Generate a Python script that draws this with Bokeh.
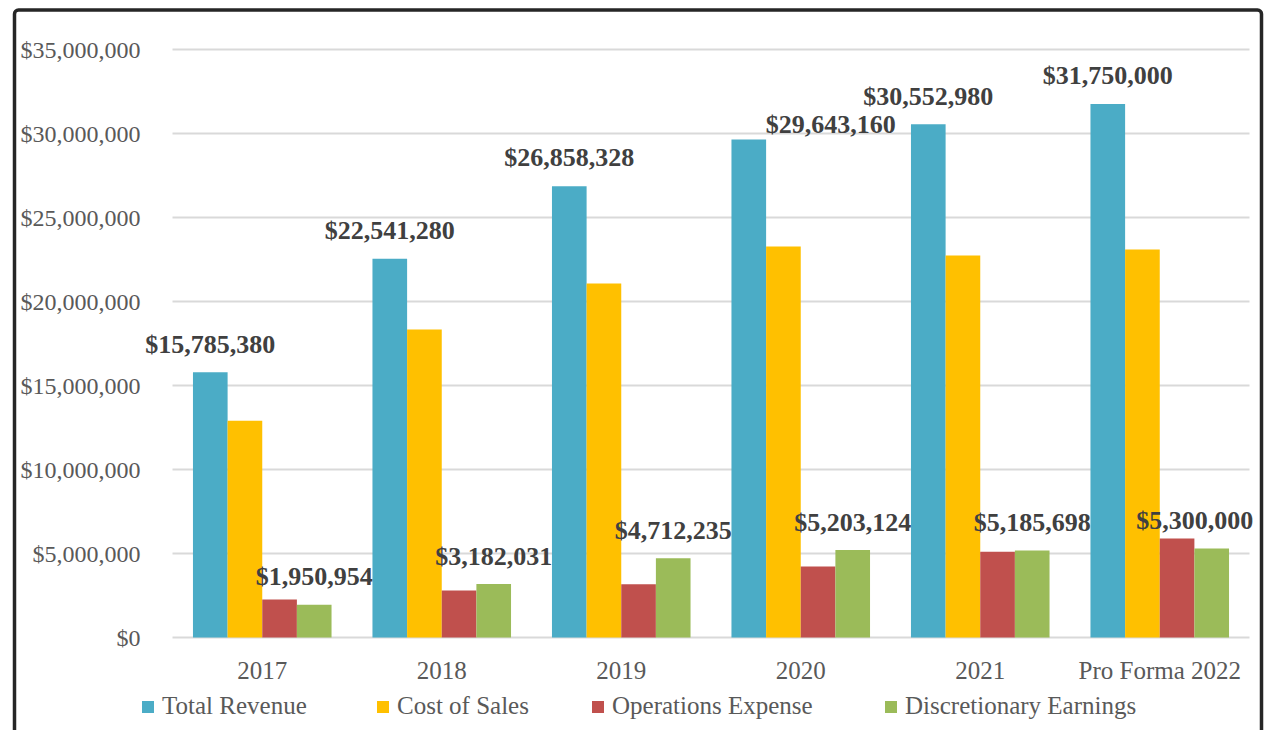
from bokeh.plotting import figure
from bokeh.models import (ColumnDataSource, Range1d, Legend, LegendItem, BoxAnnotation)
from bokeh.core.properties import value
from bokeh.embed import file_html
from bokeh.resources import INLINE

# ---- data ----
years = ["2017", "2018", "2019", "2020", "2021", "Pro Forma 2022"]
total_revenue = [15785380, 22541280, 26858328, 29643160, 30552980, 31750000]
cost_of_sales = [12900000, 18330000, 21070000, 23270000, 22740000, 23100000]
operations_expense = [2260000, 2800000, 3170000, 4230000, 5100000, 5890000]
discretionary_earnings = [1950954, 3182031, 4712235, 5203124, 5185698, 5300000]
y_ticks = [0, 5000000, 10000000, 15000000, 20000000, 25000000, 30000000, 35000000]
series_names = ["Total Revenue", "Cost of Sales", "Operations Expense", "Discretionary Earnings"]

# ---- layout / styling (screen pixels) ----
W, H = 1270, 730
PLOT_L, PLOT_R = 172, 1249       # plot area left / right edge on the canvas
ZERO_Y, TOP_Y = 637, 49          # canvas y of $0 and of $35,000,000
rev_label_dx = [0, 0, 0, 82, 0, 0]
rev_label_dy = [-28, -28, -29, -15, -28, -29]
disc_label_dx = [0, 0, 0, 0, 0, -17]
disc_label_dy = [-28, -28, -28, -28, -28, -28]
legend_x = [140, 375, 590, 883]

FONT = "Liberation Serif"
TXT = "#595959"
LBL = "#404040"
GRID = "#d9d9d9"
colors = ["#4bacc6", "#ffc000", "#c0504d", "#9bbb59"]

n = len(years)
u = (PLOT_R - PLOT_L) / n                     # pixels per category
mpp = (y_ticks[-1] - y_ticks[0]) / (ZERO_Y - TOP_Y)   # value per pixel

p = figure(x_range=Range1d(-PLOT_L / u, (W - PLOT_L) / u),
           y_range=Range1d(-(H - ZERO_Y) * mpp, ZERO_Y * mpp),
           width=W, height=H, output_backend="svg", toolbar_location=None,
           x_axis_type=None, y_axis_type=None,
           min_border_left=0, min_border_right=0, min_border_top=0, min_border_bottom=0)
p.outline_line_color = None
p.grid.visible = False
p.background_fill_color = "white"
p.border_fill_color = "white"

# gridlines + y tick labels
grid_src = ColumnDataSource(dict(
    y=y_ticks, x0=[0] * len(y_ticks), x1=[n] * len(y_ticks),
    lbl=["${:,.0f}".format(v) for v in y_ticks]))
p.segment(x0="x0", x1="x1", y0="y", y1="y", source=grid_src, line_color=GRID, line_width=2)
p.text(x="x0", y="y", text="lbl", source=grid_src, x_offset=-32, text_align="right",
       text_baseline="middle", text_font=value(FONT), text_font_size="24px", text_color=TXT)

# bars
centers = [i + 0.5 for i in range(n)]
src = ColumnDataSource(dict(
    xc=centers, years=years, zero=[0] * n,
    rev=total_revenue, cost=cost_of_sales, ops=operations_expense, disc=discretionary_earnings,
    rev_lbl=["${:,.0f}".format(v) for v in total_revenue],
    disc_lbl=["${:,.0f}".format(v) for v in discretionary_earnings],
    rev_dx=rev_label_dx, rev_dy=rev_label_dy, disc_dx=disc_label_dx, disc_dy=disc_label_dy,
))
bw = 0.193
offs = [-1.5 * bw, -0.5 * bw, 0.5 * bw, 1.5 * bw]
cols = ["rev", "cost", "ops", "disc"]
renderers = []
for c, o, col in zip(cols, offs, colors):
    src.data["x_" + c] = [x + o for x in centers]
    r = p.vbar(x="x_" + c, top=c, width=bw, source=src, fill_color=col, line_color=None)
    renderers.append(r)

# value labels
p.text(x="x_rev", y="rev", text="rev_lbl", source=src,
       x_offset="rev_dx", y_offset="rev_dy", text_align="center", text_baseline="middle",
       text_font=value(FONT), text_font_style="bold", text_font_size="26px", text_color=LBL)
p.text(x="x_disc", y="disc", text="disc_lbl", source=src,
       x_offset="disc_dx", y_offset="disc_dy", text_align="center", text_baseline="middle",
       text_font=value(FONT), text_font_style="bold", text_font_size="26px", text_color=LBL)

# category labels
p.text(x="xc", y="zero", text="years", source=src, y_offset=33, text_align="center",
       text_baseline="middle", text_font=value(FONT), text_font_size="25px", text_color=TXT)

# legend (one entry per box so each sits where the reference has it)
for name, r, lx in zip(series_names, renderers, legend_x):
    lg = Legend(items=[LegendItem(label=name, renderers=[r])],
                orientation="horizontal", location=(lx, 10),
                glyph_width=15, glyph_height=15, label_standoff=7,
                padding=0, margin=0, border_line_color=None, background_fill_alpha=0,
                label_text_font=FONT, label_text_font_size="25px", label_text_color=TXT)
    p.add_layout(lg, "center")

# chart border
frame_box = BoxAnnotation(left=14, right=1261, top=9.5, bottom=800,
                          left_units="canvas", right_units="canvas",
                          top_units="canvas", bottom_units="canvas",
                          fill_alpha=0, line_color="#262626", line_alpha=1.0, line_width=3.5,
                          border_radius=4, level="overlay")
p.add_layout(frame_box)

open("out.html", "w").write(file_html(p, INLINE))
